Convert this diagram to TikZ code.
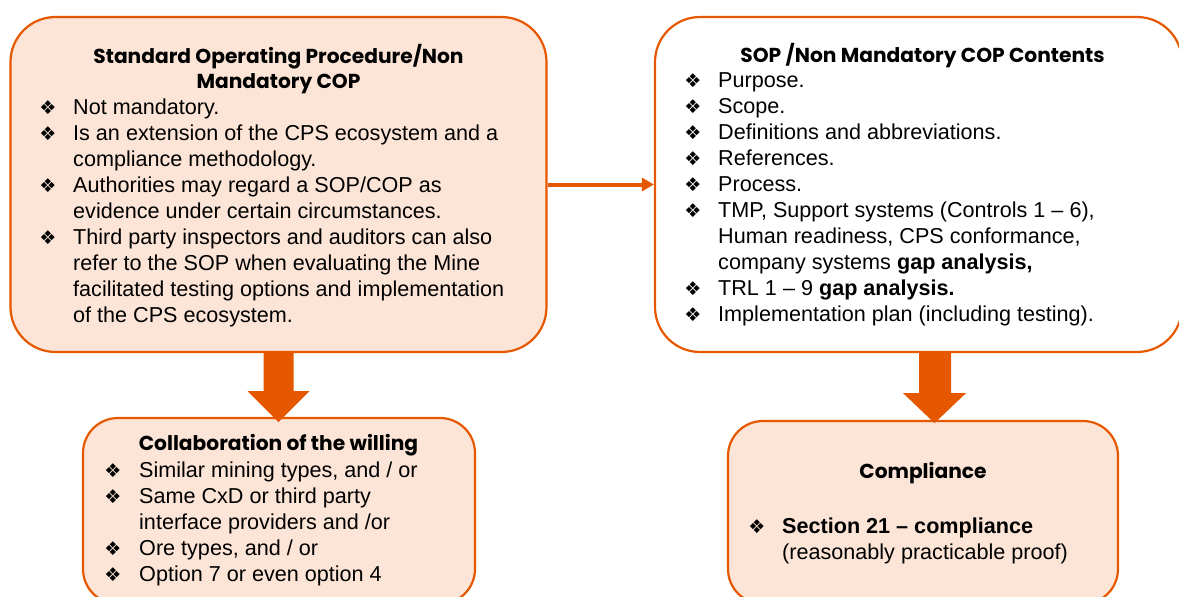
\documentclass[tikz,border=0pt]{standalone}
\usepackage{fontspec}
\setmainfont{Liberation Sans}
\newfontfamily\titlefont{Poppins}
\newfontfamily\symfont{DejaVu Sans}
\usetikzlibrary{arrows.meta,calc}
\definecolor{orng}{RGB}{229,88,0}
\definecolor{peach}{RGB}{252,228,214}
\tikzset{
  box/.style={draw=orng, line width=2.2pt, fill=peach, inner sep=0pt, rounded corners=45pt},
  smallbox/.style={box, rounded corners=35pt},
  ln/.style={anchor=base west, inner sep=0pt, font=\fontsize{21.6}{24}\selectfont},
  bul/.style={anchor=base, inner sep=0pt, font=\symfont\fontsize{19}{19}\selectfont},
  ttl/.style={anchor=base, inner sep=0pt, font=\titlefont\bfseries\fontsize{20.2}{24}\selectfont},
  blockarrow/.style={fill=orng},
  linkarrow/.style={draw=orng, line width=4pt, -{Triangle[length=12pt,width=13pt]}}
}
\begin{document}
\begin{tikzpicture}[x=1pt,y=-1pt]
\useasboundingbox (0,0) rectangle (1179,597);
% boxes
\node[box, minimum width=536pt, minimum height=335pt] (sop) at (278.5,184.5) {};
\node[box, fill=white, minimum width=527pt, minimum height=335pt] (cont) at (918.5,184.5) {};
\node[smallbox, minimum width=392pt, minimum height=186pt] (collab) at (279,511) {};
\node[smallbox, minimum width=390pt, minimum height=183pt] (comp) at (923,512.5) {};
% connectors
\draw[linkarrow] (sop.east) -- (cont.west);
\fill[blockarrow] (sop.south) ++(-15,0) -- ++(30,0) -- ++(0,38) -- ++(16,0) -- ++(-31,31) -- ++(-31,-31) -- ++(16,0) -- cycle;
\fill[blockarrow] (cont.south) ++(0.5,0) -- ++(32,0) -- ++(0,40) -- ++(15,0) -- ++(-31.5,30) -- ++(-31.5,-30) -- ++(16,0) -- cycle;
% left box text
\node[ttl] (t1a) at (278.5,63) {Standard Operating Procedure/Non};
\node[ttl] (t1b) at (278.5,88) {Mandatory COP};
\node[bul] (b11) at (48,114) {❖};
\node[ln] (l11) at (73,114) {Not mandatory.};
\node[bul] (b12) at (48,140) {❖};
\node[ln] (l12) at (73,140) {Is an extension of the CPS ecosystem and a};
\node[ln] (l13) at (73,166) {compliance methodology.};
\node[bul] (b14) at (48,192) {❖};
\node[ln] (l14) at (73,192) {Authorities may regard a SOP/COP as};
\node[ln] (l15) at (73,218) {evidence under certain circumstances.};
\node[bul] (b16) at (48,244) {❖};
\node[ln] (l16) at (73,244) {Third party inspectors and auditors can also};
\node[ln] (l17) at (73,270) {refer to the SOP when evaluating the Mine};
\node[ln] (l18) at (73,296) {facilitated testing options and implementation};
\node[ln] (l19) at (73,322) {of the CPS ecosystem.};
% right box text
\node[ttl] (t2) at (922.5,62) {SOP\hspace{0.22em}/Non Mandatory COP Contents};
\node[bul] (b21) at (693,87) {❖};
\node[ln] (l21) at (718,87) {Purpose.};
\node[bul] (b22) at (693,113) {❖};
\node[ln] (l22) at (718,113) {Scope.};
\node[bul] (b23) at (693,139) {❖};
\node[ln] (l23) at (718,139) {Definitions and abbreviations.};
\node[bul] (b24) at (693,165) {❖};
\node[ln] (l24) at (718,165) {References.};
\node[bul] (b25) at (693,191) {❖};
\node[ln] (l25) at (718,191) {Process.};
\node[bul] (b26) at (693,217) {❖};
\node[ln] (l26) at (718,217) {TMP, Support systems (Controls 1 – 6),};
\node[ln] (l27) at (718,243) {Human readiness, CPS conformance,};
\node[ln] (l28) at (718,269) {company systems \textbf{gap analysis,}};
\node[bul] (b29) at (693,295) {❖};
\node[ln] (l29) at (718,295) {TRL 1 – 9 \textbf{gap analysis.}};
\node[bul] (b210) at (693,321) {❖};
\node[ln] (l210) at (718,321) {Implementation plan (including testing).};
% bottom left text
\node[ttl] (t3) at (278.5,450) {Collaboration of the willing};
\node[bul] (b31) at (113,477) {❖};
\node[ln] (l31) at (139,477) {Similar mining types, and / or};
\node[bul] (b32) at (113,503) {❖};
\node[ln] (l32) at (139,503) {Same CxD or third party};
\node[ln] (l33) at (139,529) {interface providers and /or};
\node[bul] (b34) at (113,555) {❖};
\node[ln] (l34) at (139,555) {Ore types, and / or};
\node[bul] (b35) at (113,581) {❖};
\node[ln] (l35) at (139,581) {Option 7 or even option 4};
% bottom right text
\node[ttl] (t4) at (923,478) {Compliance};
\node[bul] (b41) at (757,533) {❖};
\node[ln] (l41) at (782,533) {\textbf{Section 21 – compliance}};
\node[ln] (l42) at (782,559) {(reasonably practicable proof)};
\end{tikzpicture}
\end{document}
